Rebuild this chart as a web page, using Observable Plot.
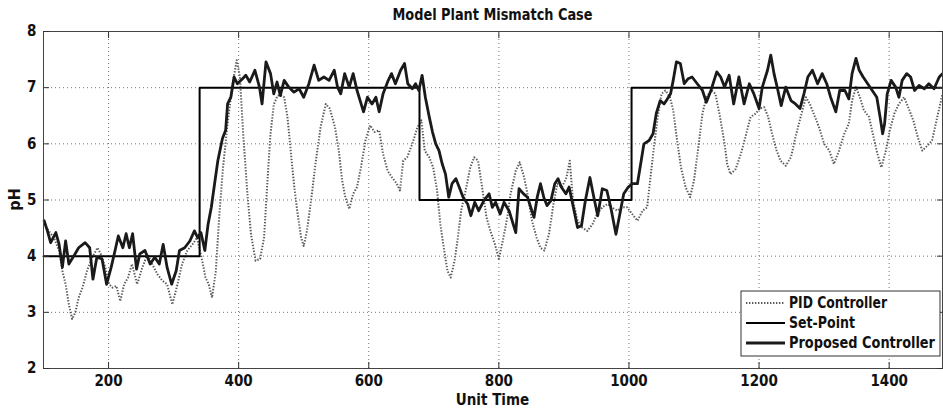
<!DOCTYPE html>
<html>
<head>
<meta charset="utf-8">
<script src="https://cdn.jsdelivr.net/npm/d3@7"></script>
<script src="https://cdn.jsdelivr.net/npm/@observablehq/plot@0.6"></script>
<style>
  html, body { margin: 0; padding: 0; background: #fff; }
  #chart { width: 943px; height: 408px; }
</style>
</head>
<body>
<div id="chart"></div>
<script>
const title = "Model Plant Mismatch Case";
const xLabel = "Unit Time";
const yLabel = "pH";
const xTicks = [200, 400, 600, 800, 1000, 1200, 1400];
const yTicks = [2, 3, 4, 5, 6, 7, 8];
const seriesNames = ["PID Controller", "Set-Point", "Proposed Controller"];

// Set-point (step-after)
const spTime = [100, 340, 678, 1004, 1482];
const spValue = [4, 7, 5, 7, 7];

// PID controller response
const pidTime = [101,108,116,124,129,134,139,144,149,154,160,167,175,183,188,195,201,206,212,218,224,230,236,244,252,260,267,275,283,290,298,306,313,321,329,336,344,349,354,359,365,370,376,383,390,397,402,407,413,419,426,433,439,444,449,454,460,466,470,475,480,485,490,496,500,505,512,518,526,534,540,548,554,559,564,570,576,582,588,595,602,609,616,622,629,636,643,648,653,659,667,675,681,686,693,699,705,710,716,721,726,732,737,742,749,756,762,768,775,781,787,794,800,807,813,818,826,832,839,845,851,858,864,870,877,884,890,897,904,909,914,921,928,936,944,951,959,967,974,982,990,997,1005,1013,1021,1028,1033,1039,1045,1050,1056,1063,1068,1074,1080,1087,1094,1100,1106,1113,1119,1127,1133,1140,1147,1151,1156,1164,1172,1179,1187,1195,1201,1208,1214,1220,1227,1233,1241,1249,1256,1264,1272,1278,1286,1292,1300,1308,1315,1323,1331,1338,1343,1349,1355,1361,1369,1376,1382,1388,1395,1401,1408,1415,1423,1431,1437,1444,1451,1459,1466,1474,1482];
const pidValue = [4.57,4.45,4.33,4.10,3.74,3.50,3.14,2.88,3.00,3.26,3.44,3.74,3.98,4.15,4.04,3.80,3.50,3.44,3.47,3.20,3.50,3.62,3.86,3.50,3.80,4.04,3.86,3.68,3.56,3.50,3.14,3.50,3.86,4.10,4.21,4.33,3.92,3.62,3.50,3.26,3.74,4.69,5.58,6.36,7.01,7.49,7.19,6.18,5.17,4.39,3.92,3.95,4.33,5.29,6.18,6.70,6.86,6.86,6.83,6.48,5.88,5.29,4.81,4.33,4.18,4.45,5.05,5.64,6.30,6.71,6.63,6.30,5.88,5.35,5.05,4.84,5.11,5.23,5.58,6.06,6.33,6.21,6.24,5.82,5.52,5.40,5.29,5.17,5.70,5.76,6.00,6.30,6.42,5.88,5.76,5.58,5.17,4.57,4.10,3.74,3.62,3.92,4.33,4.81,5.17,5.58,5.76,5.70,5.17,4.69,4.45,4.21,3.95,4.33,4.69,5.11,5.52,5.67,5.40,5.05,4.63,4.33,4.15,4.10,4.39,4.93,5.29,5.23,5.40,5.70,4.99,4.63,4.51,4.45,4.57,4.75,4.87,4.93,4.87,4.81,4.87,4.87,4.75,4.63,4.81,4.87,5.40,6.00,6.54,6.89,6.95,6.83,6.60,6.06,5.58,5.23,5.05,5.35,5.88,6.54,6.83,6.95,6.89,6.48,6.00,5.64,5.46,5.55,5.82,6.12,6.48,6.54,6.63,6.65,6.48,6.18,5.88,5.70,5.61,5.76,6.12,6.48,6.83,6.71,6.48,6.30,6.00,5.88,5.64,5.88,6.18,6.36,6.77,7.01,6.83,6.60,6.48,6.12,5.82,5.58,5.88,6.24,6.54,6.71,6.83,6.60,6.42,6.12,5.88,5.97,6.06,6.48,6.89];

// Proposed controller response
const propTime = [101,106,111,119,124,129,134,139,147,154,164,171,176,182,190,197,204,210,215,222,227,232,237,243,248,256,264,271,278,284,290,297,304,309,317,325,332,337,342,348,353,358,363,368,375,380,383,388,393,398,406,411,417,425,432,436,442,449,454,459,464,470,477,485,493,500,508,516,523,531,539,547,552,557,563,570,576,582,592,598,605,611,616,622,630,635,641,649,655,660,667,672,677,682,687,693,698,703,708,713,718,723,728,734,739,745,752,757,763,769,777,785,790,795,802,808,816,826,831,838,844,849,854,859,864,869,874,880,886,891,896,903,908,914,921,927,933,940,946,952,959,966,972,980,986,992,999,1005,1013,1018,1023,1031,1037,1042,1048,1054,1059,1064,1068,1073,1079,1085,1091,1097,1105,1113,1119,1126,1135,1141,1147,1154,1161,1169,1177,1185,1192,1200,1205,1213,1218,1223,1229,1234,1241,1249,1256,1263,1269,1275,1282,1290,1297,1304,1310,1318,1324,1332,1338,1343,1349,1354,1360,1367,1374,1381,1386,1390,1393,1397,1403,1410,1415,1420,1427,1433,1439,1446,1454,1461,1469,1477,1482];
const propValue = [4.63,4.45,4.24,4.42,4.21,3.80,4.27,3.86,4.01,4.15,4.24,4.15,3.59,3.98,3.95,3.50,3.80,4.10,4.36,4.15,4.40,4.15,4.40,3.77,4.04,4.10,3.86,3.98,3.86,4.21,3.80,3.50,3.74,4.10,4.15,4.27,4.45,4.33,4.42,4.10,4.57,4.87,5.29,5.70,6.09,6.24,6.71,6.83,7.19,7.07,7.16,7.22,7.10,7.31,7.01,6.71,7.46,7.25,6.89,7.10,6.86,7.13,7.01,6.92,6.98,6.83,7.07,7.40,7.13,7.19,7.13,7.31,7.01,6.89,7.25,7.01,7.25,6.95,6.57,6.83,6.71,6.83,6.57,6.89,7.13,7.25,7.07,7.31,7.43,7.07,6.98,7.07,6.95,7.22,6.83,6.48,6.21,6.00,5.88,5.64,5.46,5.05,5.29,5.38,5.23,5.05,4.93,4.72,4.96,4.81,4.99,5.11,4.87,4.96,4.75,4.96,4.80,4.42,5.20,5.11,5.05,4.87,4.69,5.05,5.29,5.05,4.90,4.99,5.29,5.38,5.23,5.11,5.23,4.90,4.51,4.54,4.99,5.40,5.05,4.72,5.20,5.17,4.87,4.39,4.75,5.11,5.23,5.29,5.29,5.64,6.00,6.06,6.18,6.54,6.77,6.71,6.80,6.89,7.13,7.46,7.43,7.07,7.16,7.19,7.07,6.95,6.74,6.95,7.28,7.19,7.01,7.22,6.71,7.19,6.71,7.07,6.89,6.63,7.01,7.31,7.58,7.25,6.95,6.68,7.01,6.77,6.71,6.63,6.89,7.19,7.31,7.07,7.25,7.07,6.83,6.57,6.95,6.95,6.80,7.25,7.52,7.31,7.19,7.07,6.95,6.83,6.48,6.18,6.36,6.89,7.13,7.01,6.83,7.13,7.25,7.19,6.95,7.04,6.98,7.07,6.98,7.19,7.25];

const sp = spTime.map((t, i) => ({t, v: spValue[i]}));
const pid = pidTime.map((t, i) => ({t, v: pidValue[i]}));
const prop = propTime.map((t, i) => ({t, v: propValue[i]}));

const FONT = "'Liberation Sans Narrow','Arial Narrow','DejaVu Sans Condensed',sans-serif";
const W = 943, H = 408, ML = 43, MR = 1, MT = 31, MB = 40;
const gridStyle = {stroke: "#666", strokeOpacity: 0.9, strokeDasharray: "1,3", strokeWidth: 1};
const noText = () => "";
const intFmt = d3.format("d");

const chart = Plot.plot({
  width: W, height: H,
  marginLeft: ML, marginRight: MR, marginTop: MT, marginBottom: MB,
  x: {domain: [100, 1482]},
  y: {domain: [2, 8]},
  style: {fontFamily: FONT, fontWeight: "bold", fontSize: "15px", color: "#111", background: "#fff", overflow: "visible"},
  marks: [
    Plot.gridX(xTicks, gridStyle),
    Plot.gridY(yTicks, gridStyle),
    Plot.line(pid, {x: "t", y: "v", stroke: "#5a5a5a", strokeWidth: 2, strokeLinecap: "butt", strokeDasharray: "1.4,1.6"}),
    Plot.line(sp, {x: "t", y: "v", curve: "step-after", stroke: "#000", strokeWidth: 2}),
    Plot.line(prop, {x: "t", y: "v", stroke: "#1a1a1a", strokeWidth: 2.8}),
    Plot.frame({stroke: "#444"}),
    Plot.axisX(xTicks, {anchor: "bottom", tickSize: 0, tickPadding: 7, tickFormat: intFmt, label: null}),
    Plot.axisY(yTicks, {anchor: "left", tickSize: 0, tickPadding: 7, tickFormat: intFmt, label: null}),
    Plot.axisX(xTicks, {anchor: "bottom", tickSize: 6, dy: -6, tickFormat: noText, label: null, stroke: "#333"}),
    Plot.axisX(xTicks, {anchor: "top", tickSize: 6, dy: 6, tickFormat: noText, label: null, stroke: "#333"}),
    Plot.axisY(yTicks, {anchor: "left", tickSize: 6, dx: 6, tickFormat: noText, label: null, stroke: "#333"}),
    Plot.axisY(yTicks, {anchor: "right", tickSize: 6, dx: -6, tickFormat: noText, label: null, stroke: "#333"})
  ]
});

document.getElementById("chart").appendChild(chart);

const svg = d3.select(chart);
const cx = (ML + W - MR) / 2;
function addText(sel, fs) {
  return sel.attr("font-family", FONT).attr("font-weight", "bold").attr("font-size", fs).attr("fill", "#111");
}
addText(svg.append("text"), 16).attr("x", cx).attr("y", 20).attr("text-anchor", "middle")
  .attr("textLength", 200).attr("lengthAdjust", "spacingAndGlyphs").text(title);
addText(svg.append("text"), 15).attr("x", cx).attr("y", 405).attr("text-anchor", "middle").text(xLabel);
addText(svg.append("text"), 16).attr("transform", `translate(20,${(MT + H - MB) / 2}) rotate(-90)`).attr("text-anchor", "middle").text(yLabel);

// Legend
const lg = svg.append("g").attr("transform", "translate(741,291)");
lg.append("rect").attr("width", 199).attr("height", 65).attr("fill", "#fff").attr("stroke", "#333");
const styles = [
  {stroke: "#5a5a5a", width: 2, dash: "1.4,1.6"},
  {stroke: "#000", width: 2, dash: null},
  {stroke: "#1a1a1a", width: 2.8, dash: null}
];
const legendWidths = [98, 66, 146];
seriesNames.forEach((name, i) => {
  const y = 12 + i * 20;
  lg.append("line").attr("x1", 5).attr("x2", 44).attr("y1", y).attr("y2", y)
    .attr("stroke", styles[i].stroke).attr("stroke-width", styles[i].width)
    .attr("stroke-dasharray", styles[i].dash);
  addText(lg.append("text"), 15).attr("x", 48).attr("y", y).attr("dy", "0.36em")
    .attr("text-anchor", "start").attr("textLength", legendWidths[i]).attr("lengthAdjust", "spacingAndGlyphs").text(name);
});
</script>
</body>
</html>
